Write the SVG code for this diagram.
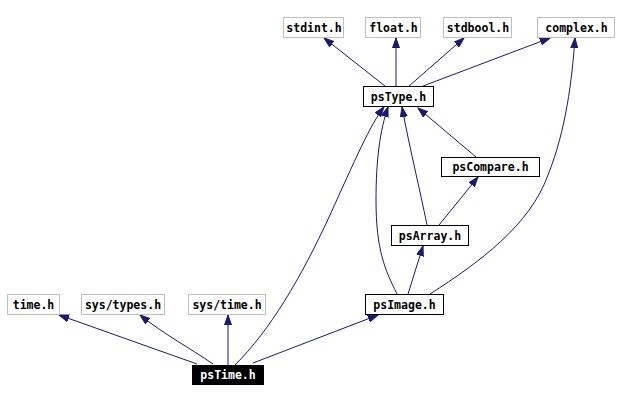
<svg xmlns="http://www.w3.org/2000/svg" width="618" height="401" viewBox="0 0 618 401">
  <defs>
    <style>
      .box rect { fill: #ffffff; stroke: #000000; stroke-width: 1; }
      .ext rect { fill: #ffffff; stroke: #bfbfbf; stroke-width: 1; }
      .cur rect { fill: #000000; stroke: #000000; stroke-width: 1; }
      text { font-family: "DejaVu Sans Mono", "Liberation Mono", monospace; font-weight: bold; font-size: 11.5px; text-anchor: middle; fill: #000000; }
      .cur text { fill: #ffffff; }
      .edges path { fill: none; stroke: #191970; stroke-width: 1; marker-end: url(#arrow); }
    </style>
    <marker id="arrow" markerUnits="userSpaceOnUse" markerWidth="11" markerHeight="8" refX="10" refY="4" orient="auto">
      <path d="M0,0.5 L10,4 L0,7.5 z" fill="#191970" stroke="#191970" stroke-width="1"/>
    </marker>
  </defs>
  <rect width="618" height="401" fill="#ffffff"/>

  <g class="edges">
    <path d="M385,86 L324,38"/>
    <path d="M396,86 L396,38"/>
    <path d="M409,86 L464,38"/>
    <path d="M423,86 L550,38"/>
    <path d="M430,294 C480,262 530,225 548,175 C566,130 572,80 575,38"/>
    <path d="M235,365 C270,330 300,280 330,215 C355,160 370,125 384,107"/>
    <path d="M397,294 C385,270 376,250 376,200 C376,160 380,130 388,107"/>
    <path d="M427,225 C420,190 410,150 402,107"/>
    <path d="M476,157 L418,108"/>
    <path d="M439,225 L478,177"/>
    <path d="M408,294 L423,246"/>
    <path d="M197,364 L59,315"/>
    <path d="M213,364 C190,348 165,335 140,315"/>
    <path d="M228,365 L228,315"/>
    <path d="M253,363 L378,315"/>
  </g>

  <g id="stdint" class="ext"><rect x="283.5" y="17.5" width="60" height="20"/><text x="314" y="31.5">stdint.h</text></g>
  <g id="float" class="ext"><rect x="365.5" y="17.5" width="55" height="20"/><text x="393.5" y="31.5">float.h</text></g>
  <g id="stdbool" class="ext"><rect x="443.5" y="17.5" width="68" height="20"/><text x="478" y="31.5">stdbool.h</text></g>
  <g id="complex" class="ext"><rect x="537.5" y="17.5" width="77" height="20"/><text x="576.5" y="31.5">complex.h</text></g>
  <g id="psType" class="box"><rect x="363.5" y="86.5" width="70" height="20"/><text x="398.5" y="100.5">psType.h</text></g>
  <g id="psCompare" class="box"><rect x="441.5" y="157.5" width="98" height="19"/><text x="490.5" y="171">psCompare.h</text></g>
  <g id="psArray" class="box"><rect x="391.5" y="225.5" width="77" height="20"/><text x="430" y="239.5">psArray.h</text></g>
  <g id="psImage" class="box"><rect x="365.5" y="294.5" width="78" height="20"/><text x="404.5" y="308.5">psImage.h</text></g>
  <g id="time" class="ext"><rect x="7.5" y="294.5" width="52" height="20"/><text x="33.5" y="308.5">time.h</text></g>
  <g id="systypes" class="ext"><rect x="81.5" y="294.5" width="83" height="20"/><text x="123" y="308.5">sys/types.h</text></g>
  <g id="systime" class="ext"><rect x="188.5" y="294.5" width="77" height="20"/><text x="227" y="308.5">sys/time.h</text></g>
  <g id="psTime" class="cur"><rect x="192.5" y="365.5" width="71" height="19"/><text x="228" y="379">psTime.h</text></g>
</svg>
